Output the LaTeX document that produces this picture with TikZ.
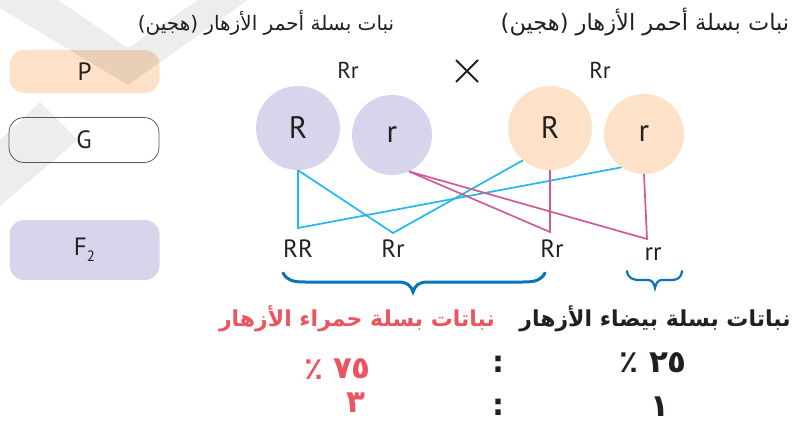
\documentclass[tikz,border=0pt]{standalone}
\usepackage{fontspec}
\setmainfont{PT Sans}
\newfontfamily\arabicfont[Script=Arabic]{DejaVu Sans}
\TeXXeTstate=1
\definecolor{ink}{HTML}{231F20}
\definecolor{lav}{HTML}{D7D5EB}
\definecolor{peach}{HTML}{FDE1C8}
\definecolor{peachdark}{HTML}{EACFB8}
\definecolor{wm}{HTML}{EDEDED}
\definecolor{cyanl}{HTML}{22B8EC}
\definecolor{magl}{HTML}{CE5A9B}
\definecolor{braceb}{HTML}{0B73BA}
\definecolor{redt}{HTML}{EC5460}
\tikzset{
  box/.style={rectangle, rounded corners=15pt, minimum width=150pt, inner sep=0pt,
    text=ink, font=\fontsize{25}{25}\selectfont},
  gam/.style={circle, minimum size=#1, inner sep=0pt, text=ink,
    font=\fontsize{31}{31}\selectfont},
  lab/.style={inner sep=0pt, text=ink, font=\fontsize{25}{25}\selectfont},
  top/.style={inner sep=0pt, text=ink, font=\fontsize{23}{23}\selectfont},
  arab/.style={inner sep=0pt, text=ink, font=\arabicfont\fontsize{20}{20}\selectfont},
  arabB/.style={inner sep=0pt, font=\arabicfont\bfseries\fontsize{22}{22}\selectfont},
  num/.style={inner sep=0pt, font=\arabicfont\bfseries\fontsize{31}{31}\selectfont},
  colon/.style={inner sep=0pt, text=ink, font=\arabicfont\bfseries\fontsize{30}{30}\selectfont},
  cyanline/.style={draw=cyanl, line width=1.7pt, line join=miter},
  magline/.style={draw=magl, line width=1.7pt, line join=miter},
  bracepath/.style={draw=braceb, line width=3pt, line cap=round},
}
\begin{document}
\begin{tikzpicture}[x=1pt,y=-1pt]
\useasboundingbox (0,0) rectangle (805,423);
% watermark
\fill[wm] (0,0) -- (58,0) -- (128,48) -- (198,0) -- (248,0) -- (128,85) -- (0,8) -- cycle;
\fill[wm] (0,140) -- (40,102) -- (78,140) -- (0,206) -- cycle;
% P box
\node[box, fill=peach, minimum height=43pt] (P) at (84.5,71.5) {};
\begin{scope}
  \clip[rounded corners=15pt] (9.5,50) rectangle (159.5,93);
  \fill[peachdark] (0,0) -- (58,0) -- (128,48) -- (198,0) -- (248,0) -- (128,85) -- (0,8) -- cycle;
\end{scope}
\node[lab, font=\fontsize{25}{25}\selectfont] (Ptxt) at (84.5,72) {P};
% G box
\node[box, draw=ink!75, line width=0.8pt, minimum height=45pt] (G) at (84,140) {G};
% F2 box
\node[box, fill=lav, minimum height=60pt] (F) at (84.5,250) {F{\fontsize{15}{15}\selectfont\raisebox{-6pt}{2}}};
% headings
\node[arab] (h1) at (266,23) {\beginR نبات بسلة أحمر الأزهار (هجين)\endR};
\node[arab, font=\arabicfont\fontsize{22.5}{22.5}\selectfont] (h2) at (645,22) {\beginR نبات بسلة أحمر الأزهار (هجين)\endR};
\node[top] (g1) at (348,70) {Rr};
\node[top] (g2) at (600,70) {Rr};
\draw[ink, line width=1.8pt] (456,60) -- (478,82) (456,82) -- (478,60);
% gametes
\node[gam=84pt, fill=lav] (LR) at (298,128) {R};
\node[gam=80pt, fill=lav] (Lr) at (392,135) {r};
\node[gam=84pt, fill=peach] (PR) at (550,128) {R};
\node[gam=80pt, fill=peach] (Pr) at (644,134) {r};
% offspring
\node[lab] (RR) at (298,249) {RR};
\node[lab] (Rr1) at (393,249) {Rr};
\node[lab] (Rr2) at (552,249) {Rr};
\node[lab] (rr) at (653,254) {rr};
\coordinate (jRR) at (298,228);
\coordinate (jRr1) at (393,233);
\coordinate (jRr2) at (550,232);
\coordinate (jrr) at (647,239);
\draw[cyanline] (LR.south) -- (jRR) -- (Pr.-124);
\draw[cyanline] (LR.south) -- (jRr1) -- (PR.-130);
\draw[magline] (Lr.-65) -- (jRr2) -- (PR.south);
\draw[magline] (Lr.-65) -- (jrr) -- (Pr.south);
% braces
\draw[bracepath] (283,273) .. controls (287,280) and (292,282) .. (305,282) -- (398,282)
  .. controls (408,282) and (411,286) .. (413,292) .. controls (415,286) and (418,282) .. (428,282)
  -- (523,282) .. controls (536,282) and (541,280) .. (545,273);
\draw[bracepath, line width=2.2pt] (627,271) .. controls (628,278) and (632,280) .. (640,280) -- (648,280)
  .. controls (652,280) and (654,283) .. (655,288) .. controls (656,283) and (658,280) .. (662,280)
  -- (670,280) .. controls (678,280) and (681,278) .. (682,271);
% phenotype labels
\node[arabB, text=redt] (redlbl) at (357,319) {\beginR نباتات بسلة حمراء الأزهار\endR};
\node[arabB, text=ink] (whitelbl) at (655,319) {\beginR نباتات بسلة بيضاء الأزهار\endR};
% ratios
\node[num, text=redt] (p75) at (314,370) {٪};
\node[num, text=redt] (n75) at (352,369) {٧٥};
\node[num, text=ink] (p25) at (629,363) {٪};
\node[num, text=ink] (n25) at (668,363) {٢٥};
\node[colon] (c1) at (498,364) {:};
\node[num, text=redt] (n3) at (356,403) {٣};
\node[colon] (c2) at (498,407) {:};
\node[num, text=ink] (n1) at (660,407) {١};
\end{tikzpicture}
\end{document}
